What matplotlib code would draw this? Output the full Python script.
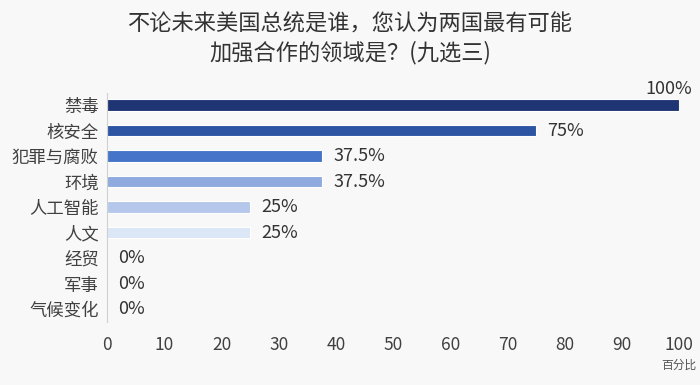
import matplotlib
matplotlib.use('Agg')
import matplotlib.pyplot as plt
import numpy as np

plt.rcParams['font.family'] = ['Noto Sans CJK SC', 'DejaVu Sans']

categories = ['禁毒', '核安全', '犯罪与腐败', '环境', '人工智能', '人文', '经贸', '军事', '气候变化']
values = [100, 75, 37.5, 37.5, 25, 25, 0, 0, 0]
value_labels = ['100%', '75%', '37.5%', '37.5%', '25%', '25%', '0%', '0%', '0%']
colors = ['#1f3573', '#2c54a3', '#4674c9', '#8eaadf', '#b5c7ea', '#dbe6f6',
          '#dbe6f6', '#dbe6f6', '#dbe6f6']
xticks = [0, 10, 20, 30, 40, 50, 60, 70, 80, 90, 100]

bg = '#f8f8f8'
fig = plt.figure(figsize=(7, 3.85), dpi=100, facecolor=bg)
ax = fig.add_axes([0.153, 0.164, 0.817, 0.594], facecolor=bg)

y = np.arange(len(categories))
ax.barh(y, values, height=0.45, color=colors, edgecolor='white', linewidth=0.8)

for i, (v, lab) in enumerate(zip(values, value_labels)):
    if v >= 100:
        ax.text(v + 2.3, i - 0.62, lab, ha='right', va='center', fontsize=13, color='#333333')
    else:
        ax.text(v + 2, i, lab, ha='left', va='center', fontsize=13, color='#333333')

ax.set_xlim(0, 100)
ax.set_ylim(8.5, -0.47)
ax.set_yticks(y)
ax.set_yticklabels(categories, fontsize=12.5, color='#404040')
ax.set_xticks(xticks)
ax.set_xticklabels([str(t) for t in xticks], fontsize=12.5, color='#404040')
ax.tick_params(axis='both', length=0)
ax.tick_params(axis='x', pad=10)
ax.tick_params(axis='y', pad=6)
for s in ['top', 'right', 'bottom']:
    ax.spines[s].set_visible(False)
ax.spines['left'].set_color('#d0d0d0')

fig.text(0.5, 0.9, '不论未来美国总统是谁，您认为两国最有可能\n加强合作的领域是？(九选三)',
         ha='center', va='center', fontsize=16, color='#333333', linespacing=1.32)
fig.text(0.995, 0.052, '百分比', ha='right', va='center', fontsize=8.5, color='#555555')

fig.savefig('out.png', dpi=100, facecolor=bg)
